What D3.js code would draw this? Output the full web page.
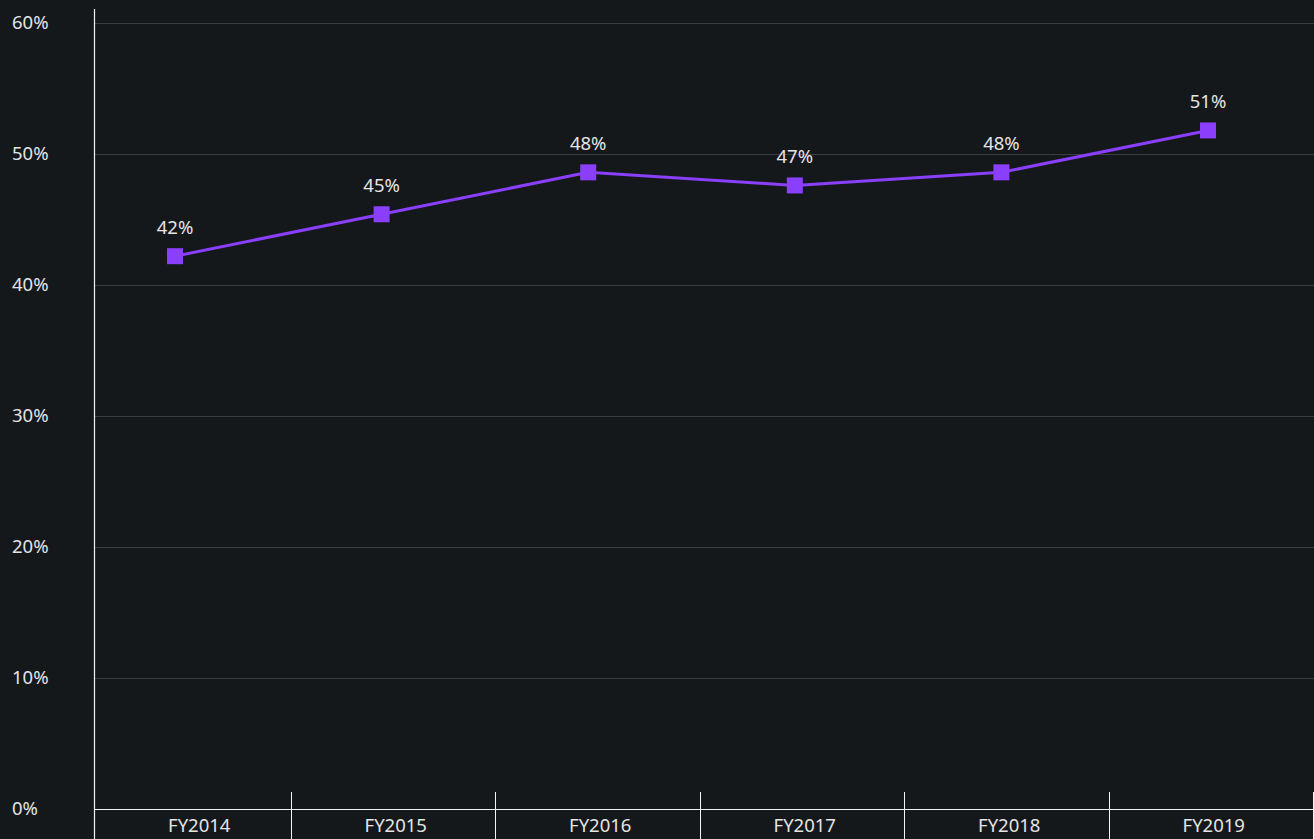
<!DOCTYPE html>
<html>
<head>
<meta charset="utf-8">
<script src="https://cdn.jsdelivr.net/npm/d3@7"></script>
<style>
  html, body { margin: 0; padding: 0; background: #15181b; }
  svg { display: block; }
</style>
</head>
<body>
<div id="vis"></div>
<script>
const years = ["FY2014", "FY2015", "FY2016", "FY2017", "FY2018", "FY2019"]
const shares = [42.2, 45.4, 48.6, 47.6, 48.6, 51.8]
const shareLabels = ["42%", "45%", "48%", "47%", "48%", "51%"]
const yTicks = [0, 10, 20, 30, 40, 50, 60]

const width = 1314, height = 839
const font = "'Noto Sans', 'Open Sans', sans-serif"
const fs = 18.5

let svg = d3.select("#vis").append("svg")
    .attr("width", width)
    .attr("height", height)
    .attr("font-family", font)

svg.append("rect").attr("width", width).attr("height", height).attr("fill", "#15181b")

let y = d3.scaleLinear().domain([0, 60]).range([809, 23])
let xBand = d3.scaleBand().domain(years).range([86, 1313])
let xPoint = d3.scalePoint().domain(years).range([175, 1208])

// grid
svg.append("g")
    .selectAll("line")
    .data(yTicks.filter(d => d > 0))
    .join("line")
    .attr("x1", 94).attr("x2", width)
    .attr("y1", d => Math.round(y(d)) + 0.5).attr("y2", d => Math.round(y(d)) + 0.5)
    .attr("stroke", "#3a3c3f")
    .attr("stroke-width", 1)

// y labels
svg.append("g")
    .selectAll("text")
    .data(yTicks)
    .join("text")
    .attr("x", 12)
    .attr("y", d => y(d))
    .attr("dy", "0.35em")
    .attr("fill", "#e4e4e4")
    .attr("font-size", fs)
    .text(d => d + "%")

// axes lines
svg.append("line")
    .attr("x1", 94.5).attr("x2", 94.5).attr("y1", 9).attr("y2", height)
    .attr("stroke", "#f4f4f4").attr("stroke-width", 1.2)
svg.append("line")
    .attr("x1", 94).attr("x2", 1313).attr("y1", 809.5).attr("y2", 809.5)
    .attr("stroke", "#f4f4f4").attr("stroke-width", 1.2)

// category separators
let seps = years.slice(1).map(d => xBand(d)).concat([1313])
svg.append("g")
    .selectAll("line")
    .data(seps)
    .join("line")
    .attr("x1", d => Math.round(d) + 0.5).attr("x2", d => Math.round(d) + 0.5)
    .attr("y1", 792).attr("y2", height)
    .attr("stroke", "#f4f4f4").attr("stroke-width", 1)

// x labels
svg.append("g")
    .selectAll("text")
    .data(years)
    .join("text")
    .attr("x", (d, i) => i == 0 ? (94 + xBand(years[1])) / 2 + 7 : xBand(d) + xBand.bandwidth() / 2 + 3)
    .attr("y", 826)
    .attr("dy", "0.35em")
    .attr("text-anchor", "middle")
    .attr("fill", "#e4e4e4")
    .attr("font-size", fs)
    .text(d => d)

// line
let pts = years.map((d, i) => ({ year: d, v: shares[i], label: shareLabels[i] }))
svg.append("path")
    .datum(pts)
    .attr("fill", "none")
    .attr("stroke", "#8a3ffc")
    .attr("stroke-width", 3)
    .attr("d", d3.line().x(d => xPoint(d.year)).y(d => y(d.v)))

svg.append("g")
    .selectAll("rect")
    .data(pts)
    .join("rect")
    .attr("x", d => xPoint(d.year) - 8)
    .attr("y", d => y(d.v) - 8)
    .attr("width", 16).attr("height", 16)
    .attr("fill", "#8a3ffc")

svg.append("g")
    .selectAll("text")
    .data(pts)
    .join("text")
    .attr("x", d => xPoint(d.year))
    .attr("y", d => y(d.v) - 29)
    .attr("dy", "0.35em")
    .attr("text-anchor", "middle")
    .attr("fill", "#e4e4e4")
    .attr("font-size", fs)
    .text(d => d.label)
</script>
</body>
</html>
